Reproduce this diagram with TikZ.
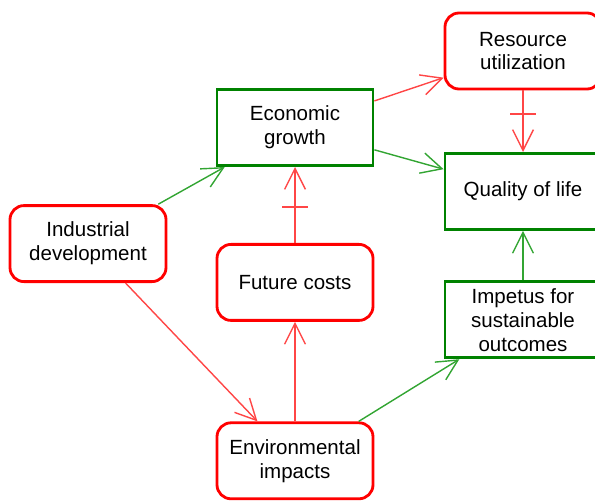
\documentclass[tikz,border=0pt]{standalone}
\usepackage{fontspec}
\setmainfont{Liberation Sans}
\usetikzlibrary{positioning, arrows.meta}
\definecolor{boxred}{RGB}{255,0,0}
\definecolor{linered}{RGB}{255,70,70}
\definecolor{boxgreen}{RGB}{0,130,0}
\definecolor{linegreen}{RGB}{50,165,50}

\begin{document}
\begin{tikzpicture}[on grid, every node/.style={font=\fontsize{14.6}{17}\selectfont, align=center},
    box/.style={rectangle, minimum width=3.9cm, minimum height=1.9cm, line width=2pt, inner sep=0pt},
    redbox/.style={box, draw=boxred, rounded corners=.35cm},
    greenbox/.style={box, draw=boxgreen},
    link/.style={line width=1pt, -{Straight Barb[length=.52cm, width=.52cm]}},
    redlink/.style={link, linered},
    greenlink/.style={link, linegreen},
    crossbar/.style={fill=linered, draw=none, minimum width=.66cm, minimum height=1.4pt, inner sep=0pt}]
    \clip (0,0) rectangle (14.875,-12.5);
		\node[greenbox] (eco) at (7.375,-3.19) {Economic\\growth};
		\node[redbox]   (ind) [below left=2.9cm and 5.175cm of eco] {Industrial\\development};
		\node[redbox]   (fut) [below=3.87cm of eco] {Future costs};
		\node[redbox]   (env) [below=4.46cm of fut] {Environmental\\impacts};
		\node[redbox]   (res) [above right=1.915cm and 5.7cm of eco] {Resource\\utilization};
		\node[greenbox] (qol) [below=3.51cm of res] {Quality of life};
		\node[greenbox] (imp) [below=3.21cm of qol] {Impetus for\\sustainable\\outcomes};
    \path
      (ind) edge[greenlink] (eco)
      (eco) edge[greenlink] (qol)
      (env) edge[greenlink] (imp)
      (imp) edge[greenlink] (qol)
      (ind) edge[redlink] (env)
      (eco) edge[redlink] (res)
      (env) edge[redlink] (fut)
      (fut) edge[redlink] node[crossbar, pos=.47] {} (eco)
      (res) edge[redlink] node[crossbar, pos=.38] {} (qol);
\end{tikzpicture}
\end{document}
